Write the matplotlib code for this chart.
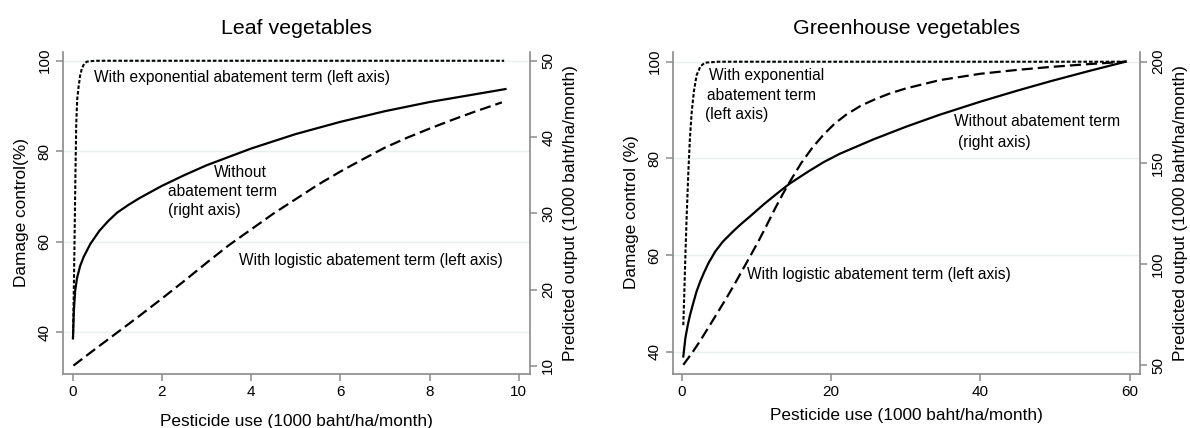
import matplotlib
matplotlib.use("Agg")
import matplotlib.pyplot as plt

plt.rcParams['font.family'] = ['Liberation Sans', 'DejaVu Sans']
plt.rcParams['lines.scale_dashes'] = False

# ---------------- Leaf vegetables ----------------
leaf_exp_x = [0.01, 0.03, 0.045, 0.065, 0.083, 0.105, 0.135, 0.17, 0.21, 0.26, 0.32, 0.5, 9.67]
leaf_exp_y = [38.5, 50.0, 60.3, 75.0, 86.1, 91.5, 94.2, 96.7, 98.3, 99.3, 99.8, 100, 100]

leaf_noab_x = [0.01, 0.03, 0.06, 0.1, 0.17, 0.25, 0.4, 0.6, 0.8, 1.0, 1.25, 1.5, 2.0, 2.5,
               3.0, 3.5, 4.0, 5.0, 6.0, 7.0, 8.0, 9.0, 9.7]
leaf_noab_y = [13.6, 17.3, 19.9, 21.5, 23.1, 24.3, 26.0, 27.7, 29.0, 30.1, 31.1, 32.0, 33.6, 35.0,
               36.3, 37.4, 38.5, 40.4, 42.0, 43.4, 44.6, 45.6, 46.3]

leaf_log_x = [0.02, 0.5, 1, 1.5, 2, 2.5, 3, 3.5, 4, 4.5, 5, 5.5, 6, 6.5, 7, 7.5, 8, 8.5, 9, 9.62]
leaf_log_y = [32.6, 36.2, 39.9, 43.6, 47.4, 51.3, 55.3, 59.2, 62.7, 66.2, 69.4, 72.6, 75.5, 78.2,
              80.8, 83.0, 85.0, 86.9, 88.7, 90.8]

# ---------------- Greenhouse vegetables ----------------
gh_exp_x = [0.22, 0.35, 0.5, 0.67, 0.89, 1.1, 1.34, 1.65, 2.0, 2.5, 3.1, 5.0, 59.5]
gh_exp_y = [45.5, 52.0, 60.0, 68.0, 77.0, 84.0, 89.5, 94.0, 97.2, 99.0, 99.8, 100, 100]

gh_noab_x = [0.22, 0.5, 0.8, 1.1, 1.5, 2.0, 2.5, 3.0, 3.57, 4.5, 5.5, 6.91, 8.0, 9.15, 11.0,
             13.0, 14.5, 17.0, 19.0, 21.2, 25.7, 30.1, 34.6, 40.0, 44.9, 49.3, 54.5, 59.5]
gh_noab_y = [54.3, 63.5, 69.5, 74.5, 80.0, 86.5, 91.5, 95.8, 100.3, 106.2, 111.0, 116.2, 119.9,
             123.5, 129.5, 135.5, 139.8, 145.8, 150.3, 154.5, 161.6, 167.9, 173.8, 180.2, 185.6,
             190.2, 195.3, 200]

gh_log_x = [0.22, 1.5, 2.45, 3.5, 4.69, 5.8, 6.91, 8.0, 9.15, 10.3, 11.4, 12.5, 13.5, 14.5, 16,
            17.5, 19, 20.5, 22, 24, 26, 28, 30.1, 34.6, 40, 44.9, 49.3, 54.5, 59.5]
gh_log_y = [37.3, 40.0, 42.2, 44.8, 47.8, 50.6, 53.5, 56.5, 59.7, 62.9, 66.2, 69.6, 72.5, 75.2,
            79.0, 82.2, 84.9, 87.2, 89.0, 90.9, 92.3, 93.5, 94.5, 96.2, 97.5, 98.3, 98.9, 99.5, 100]

titles = ["Leaf vegetables", "Greenhouse vegetables"]
xlabel = "Pesticide use (1000 baht/ha/month)"
ylabels_left = ["Damage control(%)", "Damage control (%)"]
ylabel_right = "Predicted output (1000 baht/ha/month)"
xticks = [[0, 2, 4, 6, 8, 10], [0, 20, 40, 60]]
lticks = [[40, 60, 80, 100], [40, 60, 80, 100]]
rticks = [[10, 20, 30, 40, 50], [50, 100, 150, 200]]

SPINE = '#8a8a8a'
GRID = '#e8f0f1'
SHORT = (0, (2.6, 1.4))
LONG = (0, (8.0, 3.6))

fig = plt.figure(figsize=(11.9, 4.28), dpi=100)
axL = fig.add_axes([0.0527, 0.1273, 0.3927, 0.7519])
axR = fig.add_axes([0.5653, 0.1273, 0.3927, 0.7519])

panels = [
    (axL, (-0.22, 10.25), (30.85, 102.0), (9.0, 51.2),
     (leaf_exp_x, leaf_exp_y), (leaf_noab_x, leaf_noab_y), (leaf_log_x, leaf_log_y), 11),
    (axR, (-1.2, 61.4), (35.5, 102.07), (45.9, 204.9),
     (gh_exp_x, gh_exp_y), (gh_noab_x, gh_noab_y), (gh_log_x, gh_log_y), 7),
]

for i, (ax, xl, yl, yr, ex, na, lg, xpad) in enumerate(panels):
    tw = ax.twinx()
    ax.set_xlim(*xl)
    ax.set_ylim(*yl)
    tw.set_ylim(*yr)
    ax.set_zorder(tw.get_zorder() + 1)
    ax.patch.set_visible(False)
    for y in lticks[i]:
        tw.axhline(yr[0] + (y - yl[0]) * (yr[1] - yr[0]) / (yl[1] - yl[0]),
                   color=GRID, lw=1.0, zorder=0)
    ax.plot(ex[0], ex[1], color='black', lw=1.5, linestyle=SHORT, zorder=3)
    ax.plot(lg[0], lg[1], color='black', lw=1.6, linestyle=LONG, zorder=3)
    tw.plot(na[0], na[1], color='black', lw=1.6, zorder=3)

    ax.set_xticks(xticks[i])
    ax.set_yticks(lticks[i])
    tw.set_yticks(rticks[i])
    for a in (ax, tw):
        for s in a.spines.values():
            s.set_color(SPINE)
            s.set_linewidth(1.2)
        a.spines['top'].set_visible(False)
    ax.spines['right'].set_visible(False)
    tw.spines['left'].set_visible(False)
    tw.spines['bottom'].set_visible(False)
    ax.tick_params(axis='both', direction='out', length=5, width=1.1, color=SPINE,
                   labelsize=11, pad=3)
    tw.tick_params(axis='y', direction='out', length=5, width=1.1, color=SPINE,
                   labelsize=11, pad=3)
    ax.tick_params(axis='y', labelrotation=90)
    tw.tick_params(axis='y', labelrotation=90)
    for lbl in ax.get_yticklabels() + tw.get_yticklabels():
        lbl.set_va('center')
    ax.set_xlabel(xlabel, fontsize=12.4, labelpad=xpad)
    ax.set_ylabel(ylabels_left[i], fontsize=12.4, labelpad=6)
    tw.set_ylabel(ylabel_right, fontsize=12.4, labelpad=6)
    ax.set_title(titles[i], fontsize=15.4, pad=12.5)

# annotations (left axis data coordinates)
FS = 11.2
axL.text(0.47, 96.3, "With exponential abatement term (left axis)", fontsize=FS, va='center', ha='left')
axL.text(3.16, 71.1 + 4.2, "Without", fontsize=FS, va='center', ha='left')
axL.text(2.15, 71.1, "abatement term", fontsize=FS, va='center', ha='left')
axL.text(2.15, 71.1 - 4.2, "(right axis)", fontsize=FS, va='center', ha='left')
axL.text(3.72, 55.9, "With logistic abatement term (left axis)", fontsize=FS, va='center', ha='left')

axR.text(3.7, 97.1, "With exponential", fontsize=FS, va='center', ha='left')
axR.text(3.35, 93.0, "abatement term", fontsize=FS, va='center', ha='left')
axR.text(3.1, 89.0, "(left axis)", fontsize=FS, va='center', ha='left')
axR.text(36.5, 87.7, "Without abatement term", fontsize=FS, va='center', ha='left')
axR.text(37.0, 83.25, "(right axis)", fontsize=FS, va='center', ha='left')
axR.text(8.7, 55.9, "With logistic abatement term (left axis)", fontsize=FS, va='center', ha='left')

fig.savefig("out.png", dpi=100)
